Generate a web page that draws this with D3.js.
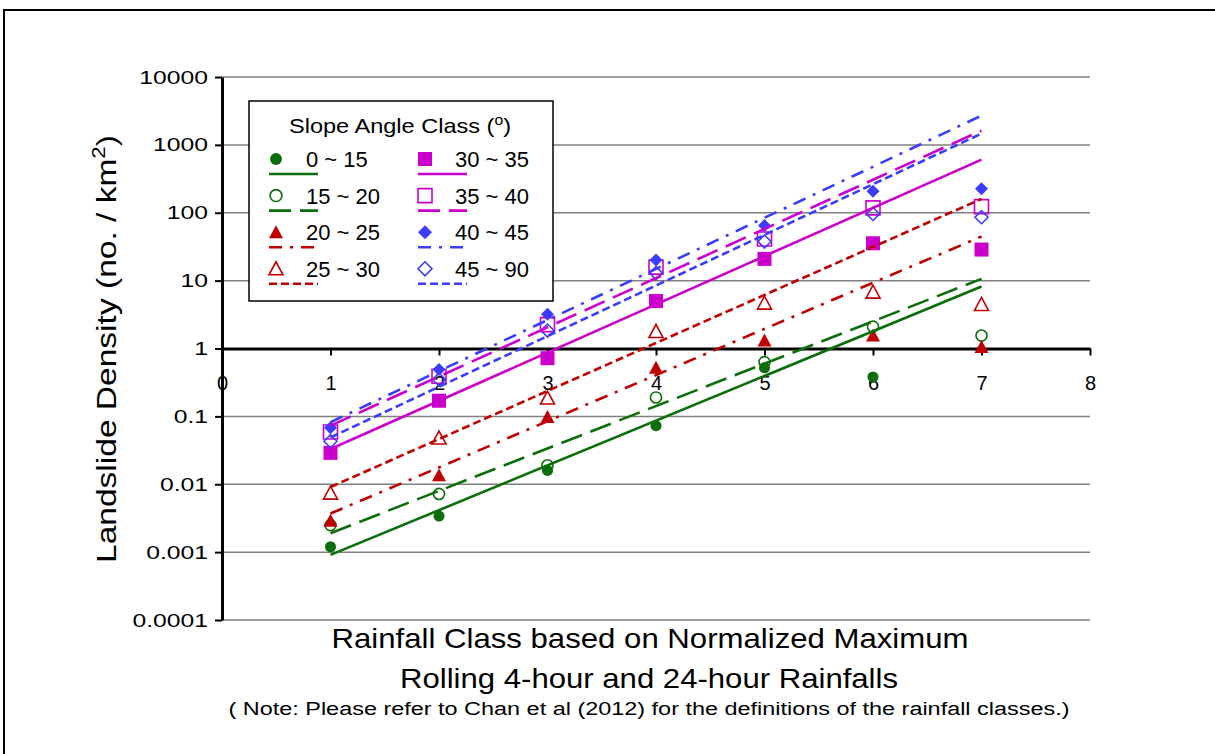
<!DOCTYPE html>
<html>
<head>
<meta charset="utf-8">
<script src="https://cdn.jsdelivr.net/npm/d3@7"></script>
<style>
  html, body { margin: 0; padding: 0; background: #fff; }
  svg { display: block; font-family: "Liberation Sans", Arial, sans-serif; }
</style>
</head>
<body>
<svg id="chart" width="1215" height="754"></svg>
<script>
// Rainfall classes on the x axis
const rainfallClasses = [1, 2, 3, 4, 5, 6, 7];

// Slope angle classes (degrees)
const slopeClasses = ["0 ~ 15", "15 ~ 20", "20 ~ 25", "25 ~ 30", "30 ~ 35", "35 ~ 40", "40 ~ 45", "45 ~ 90"];

// Landslide density (no. / km2) for each slope class, by rainfall class (null = not plotted)
const density0to15  = [0.0012, 0.0034, 0.016, 0.073, 0.52, 0.38, null];
const density15to20 = [0.0025, 0.0072, 0.019, 0.19, 0.63, 2.1, 1.55];
const density20to25 = [0.0029, 0.0135, 0.098, 0.52, 1.31, 1.55, 1.05];
const density25to30 = [0.0074, 0.048, 0.186, 1.78, 4.65, 6.75, 4.45];
const density30to35 = [0.029, 0.17, 0.72, 5.0, 20.9, 35.5, 28.7];
const density35to40 = [0.059, 0.39, 2.25, 15.8, 41, 118, 123];
const density40to45 = [0.068, 0.49, 3.2, 20.2, 65, 207, 225];
const density45to90 = [0.043, 0.35, 1.84, 12.9, 37.7, 96, 86];

// Exponential trend lines: fitted density at rainfall class 1 and class 7
const trendAtClass1 = [0.00091, 0.0019, 0.0037, 0.0091, 0.033, 0.073, 0.082, 0.049];
const trendAtClass7 = [8.2, 10.6, 44.6, 160, 607, 1625, 2700, 1467];

// Axis ticks
const yTickValues = [0.0001, 0.001, 0.01, 0.1, 1, 10, 100, 1000, 10000];
const yTickLabels = ["0.0001", "0.001", "0.01", "0.1", "1", "10", "100", "1000", "10000"];
const xTickValues = [0, 1, 2, 3, 4, 5, 6, 7, 8];

const seriesValues = [density0to15, density15to20, density20to25, density25to30,
                      density30to35, density35to40, density40to45, density45to90];

// Appearance of each slope class
const green = "#0b6e0b", red = "#c00000", magenta = "#cc00cc", blue = "#3c3cff";
const styles = [
  { color: green,   shape: "circle",   filled: true,  dash: null },
  { color: green,   shape: "circle",   filled: false, dash: "22,9" },
  { color: red,     shape: "triangle", filled: true,  dash: "13,8,3,8" },
  { color: red,     shape: "triangle", filled: false, dash: "8,4" },
  { color: magenta, shape: "square",   filled: true,  dash: null },
  { color: magenta, shape: "square",   filled: false, dash: "22,9" },
  { color: blue,    shape: "diamond",  filled: true,  dash: "13,8,3,8" },
  { color: blue,    shape: "diamond",  filled: false, dash: "8,4" }
];

// Widen text horizontally by a factor (keeps anchoring)
function widen(sel, factor) {
  sel.each(function () {
    const w = this.getComputedTextLength();
    this.setAttribute("textLength", (w * factor).toFixed(1));
    this.setAttribute("lengthAdjust", "spacingAndGlyphs");
  });
}

const svg = d3.select("#chart");

// Outer frame
svg.append("rect")
  .attr("x", 4).attr("y", 10).attr("width", 1212).attr("height", 760)
  .attr("fill", "none").attr("stroke", "#000").attr("stroke-width", 2);

const x = d3.scaleLinear().domain([0, 8]).range([222, 1090]);
const y = d3.scaleLog().domain([0.0001, 10000]).range([620, 77]);

// Horizontal gridlines
svg.append("g").selectAll("line")
  .data(yTickValues.filter(v => v !== 1))
  .join("line")
  .attr("x1", x(0)).attr("x2", x(8))
  .attr("y1", d => y(d)).attr("y2", d => y(d))
  .attr("stroke", "#808080").attr("stroke-width", 1.5);

// Y axis
const yAxis = d3.axisLeft(y)
  .tickValues(yTickValues)
  .tickFormat((d, i) => yTickLabels[i])
  .tickSize(7).tickSizeOuter(0).tickPadding(7);
const gy = svg.append("g").attr("transform", `translate(${x(0)},0)`).call(yAxis);
gy.select(".domain").attr("stroke", "#000").attr("stroke-width", 3);
gy.selectAll(".tick line").attr("stroke", "#000").attr("stroke-width", 2);
gy.selectAll(".tick text").attr("font-size", 19).attr("fill", "#000")
  .attr("font-family", "Liberation Sans, Arial, sans-serif")
  .call(widen, 1.3);

// X axis crossing at density = 1
const xAxis = d3.axisBottom(x)
  .tickValues(xTickValues)
  .tickFormat(d3.format("d"))
  .tickSize(7).tickSizeOuter(0).tickPadding(20);
const gx = svg.append("g").attr("transform", `translate(0,${y(1)})`).call(xAxis);
gx.select(".domain").attr("stroke", "#000").attr("stroke-width", 3);
gx.selectAll(".tick line").attr("stroke", "#000").attr("stroke-width", 2);
gx.selectAll(".tick text").attr("font-size", 20).attr("fill", "#000")
  .attr("font-family", "Liberation Sans, Arial, sans-serif");

// Marker shapes
function markerPath(shape, s) {
  const p = d3.path();
  const h = s / 2;
  if (shape === "circle") {
    p.moveTo(h * 0.85, 0); p.arc(0, 0, h * 0.85, 0, 2 * Math.PI);
  } else if (shape === "square") {
    p.rect(-h, -h, s, s);
  } else if (shape === "triangle") {
    p.moveTo(0, -h); p.lineTo(h, h * 0.85); p.lineTo(-h, h * 0.85); p.closePath();
  } else {
    p.moveTo(0, -h); p.lineTo(h, 0); p.lineTo(0, h); p.lineTo(-h, 0); p.closePath();
  }
  return p.toString();
}
const plotSize = { circle: 13, square: 14, triangle: 14, diamond: 13 };
const legendSize = { circle: 14, square: 14, triangle: 14, diamond: 14 };

function styleMarker(sel, st) {
  sel.attr("fill", st.filled ? st.color : "none")
     .attr("stroke", st.color)
     .attr("stroke-width", st.filled ? 0 : 1.6);
}

// Data markers
const markers = svg.append("g");
seriesValues.forEach((vals, si) => {
  const st = styles[si];
  markers.append("g").selectAll("path")
    .data(rainfallClasses.map((c, i) => ({ c, v: vals[i] })).filter(d => d.v != null))
    .join("path")
    .attr("d", markerPath(st.shape, plotSize[st.shape]))
    .attr("transform", d => `translate(${x(d.c)},${y(d.v)})`)
    .call(styleMarker, st);
});

// Trend lines
const line = d3.line().x(d => x(d.c)).y(d => y(d.v));
const trends = svg.append("g");
slopeClasses.forEach((name, si) => {
  const st = styles[si];
  const pts = [{ c: rainfallClasses[0], v: trendAtClass1[si] },
               { c: rainfallClasses[rainfallClasses.length - 1], v: trendAtClass7[si] }];
  trends.append("path")
    .attr("d", line(pts))
    .attr("fill", "none")
    .attr("stroke", st.color)
    .attr("stroke-width", 2.6)
    .attr("stroke-dasharray", st.dash);
});

// Legend
const lg = svg.append("g");
lg.append("rect")
  .attr("x", 249).attr("y", 101).attr("width", 304).attr("height", 200)
  .attr("fill", "#fff").attr("stroke", "#000").attr("stroke-width", 1.5);
const lt = lg.append("text")
  .attr("x", 400).attr("y", 133).attr("text-anchor", "middle")
  .attr("font-size", 21).attr("fill", "#000");
lt.append("tspan").text("Slope Angle Class (");
lt.append("tspan").attr("font-size", 14).attr("dy", -8).text("o");
lt.append("tspan").attr("dy", 8).text(")");
lt.attr("textLength", 222).attr("lengthAdjust", "spacingAndGlyphs");

slopeClasses.forEach((name, si) => {
  const st = styles[si];
  const col = Math.floor(si / 4), row = si % 4;
  const x0 = col === 0 ? 269 : 418;
  const lineY = 174 + row * 36.6;
  const item = lg.append("g");
  item.append("line")
    .attr("x1", x0).attr("x2", x0 + 49)
    .attr("y1", lineY).attr("y2", lineY)
    .attr("stroke", st.color).attr("stroke-width", 2.6)
    .attr("stroke-dasharray", st.dash);
  item.append("path")
    .attr("d", markerPath(st.shape, legendSize[st.shape]))
    .attr("transform", `translate(${x0 + 7},${lineY - 15})`)
    .call(styleMarker, st);
  item.append("text")
    .attr("x", x0 + 37).attr("y", lineY - 7)
    .attr("font-size", 22).attr("fill", "#000")
    .text(name);
});

// Axis titles
const yt = svg.append("text")
  .attr("transform", `translate(116,349) rotate(-90)`)
  .attr("text-anchor", "middle")
  .attr("font-size", 27).attr("fill", "#000");
yt.append("tspan").text("Landslide Density (no. / km");
yt.append("tspan").attr("font-size", 18).attr("dy", -11).text("2");
yt.append("tspan").attr("dy", 11).text(")");
yt.attr("textLength", 428).attr("lengthAdjust", "spacingAndGlyphs");

svg.append("text")
  .attr("x", 650).attr("y", 648).attr("text-anchor", "middle")
  .attr("font-size", 28).attr("fill", "#000")
  .attr("textLength", 637).attr("lengthAdjust", "spacingAndGlyphs")
  .text("Rainfall Class based on Normalized Maximum");
svg.append("text")
  .attr("x", 649).attr("y", 688).attr("text-anchor", "middle")
  .attr("font-size", 28).attr("fill", "#000")
  .attr("textLength", 498).attr("lengthAdjust", "spacingAndGlyphs")
  .text("Rolling 4-hour and 24-hour Rainfalls");
svg.append("text")
  .attr("x", 649).attr("y", 715).attr("text-anchor", "middle")
  .attr("font-size", 18).attr("fill", "#000")
  .attr("textLength", 841).attr("lengthAdjust", "spacingAndGlyphs")
  .text("( Note: Please refer to Chan et al (2012) for the definitions of the rainfall classes.)");
</script>
</body>
</html>
